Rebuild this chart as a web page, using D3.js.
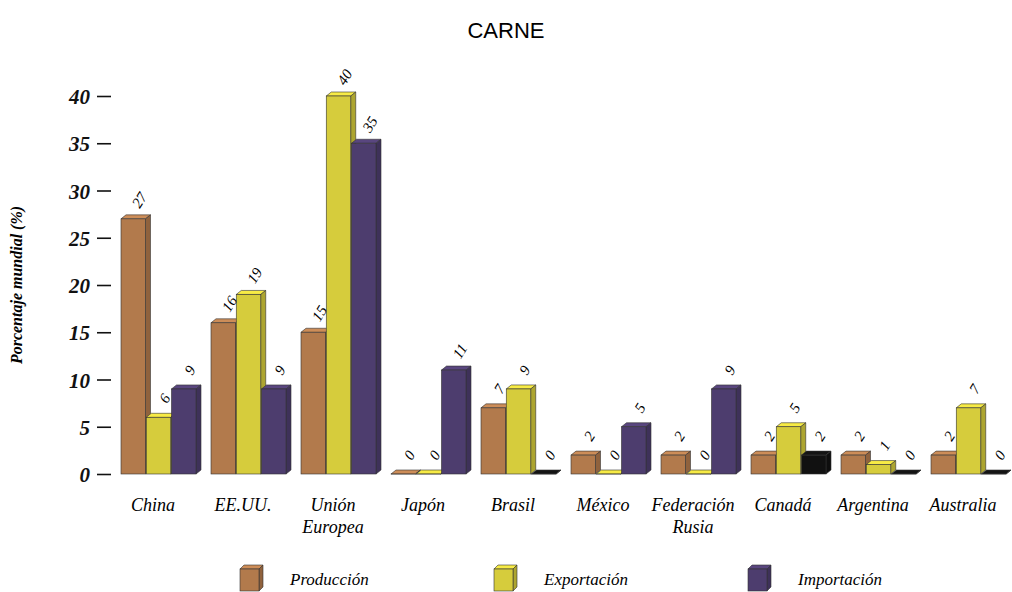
<!DOCTYPE html>
<html>
<head>
<meta charset="utf-8">
<script src="https://cdn.jsdelivr.net/npm/d3@7"></script>
<style>
body{margin:0;background:#fff;}
svg{display:block;}
.tick text{font-family:"Liberation Serif",serif;font-style:italic;font-weight:bold;}
</style>
</head>
<body>
<div id="idChart"></div>
<script>
var aCategories=["China","EE.UU.","Unión Europea","Japón","Brasil","México","Federación Rusia","Canadá","Argentina","Australia"];
var aSeries=["Producción","Exportación","Importación"];
var aProduccion=[27,16,15,0,7,2,2,2,2,2];
var aExportacion=[6,19,40,0,9,0,0,5,1,7];
var aImportacion=[9,9,35,11,0,5,9,2,0,0];
var aTicks=[0,5,10,15,20,25,30,35,40];

var iWidth=1012;
var iHeight=592;
var iDX=5, iDY=-4;

var mapColor=d3.scaleOrdinal().domain(aSeries).range(["#b27a4c","#d6cc3c","#4d3d6e"]);

var mySvg=d3.select("#idChart").append("svg")
	.attr("width",iWidth)
	.attr("height",iHeight);

var x0=d3.scaleBand().domain(aCategories).range([113,1013]);
var x1=d3.scaleBand().domain(aSeries).range([0,75]).paddingInner(0.03);
var y=d3.scaleLinear().domain([0,40]).range([474,96]);

// title
mySvg.append("text")
	.attr("x",506).attr("y",38)
	.attr("text-anchor","middle")
	.style("font-family","'Liberation Sans',Arial,sans-serif")
	.style("font-size","22px")
	.text("CARNE");

// y axis
var myAxis=mySvg.append("g")
	.attr("transform","translate(111,0)")
	.call(d3.axisLeft(y).tickValues(aTicks).tickSize(14).tickPadding(7));
myAxis.select(".domain").remove();
myAxis.selectAll(".tick line").attr("stroke","#111").attr("stroke-width",1.6);
myAxis.selectAll(".tick text").style("font-size","21px").attr("fill","#111").attr("dy","0.36em");

mySvg.append("text")
	.attr("transform","translate(22,285) rotate(-90)")
	.attr("text-anchor","middle")
	.style("font-family","'Liberation Serif',serif")
	.style("font-style","italic")
	.style("font-weight","bold")
	.style("font-size","16px")
	.text("Porcentaje mundial (%)");

// bars
var aRows=[];
aCategories.forEach(function(sCat,i){
	aRows.push({sCat:sCat,sSeries:aSeries[0],iValue:aProduccion[i]});
	aRows.push({sCat:sCat,sSeries:aSeries[1],iValue:aExportacion[i]});
	aRows.push({sCat:sCat,sSeries:aSeries[2],iValue:aImportacion[i]});
});

function fGroupX(sCat){ return x0(sCat)+x0.bandwidth()/2-37; }

function fDrawBox(g,fX,fY,fW,fH,sFill,iDx,iDy)
{
	var cBase=d3.color(sFill);
	g.append("path")
		.attr("d","M"+fX+","+fY+"l"+iDx+","+iDy+"h"+fW+"l"+(-iDx)+","+(-iDy)+"z")
		.attr("fill",cBase.brighter(0.4)).attr("stroke","#333").attr("stroke-width",0.6);
	g.append("path")
		.attr("d","M"+(fX+fW)+","+fY+"l"+iDx+","+iDy+"v"+fH+"l"+(-iDx)+","+(-iDy)+"z")
		.attr("fill",cBase.darker(0.6)).attr("stroke","#333").attr("stroke-width",0.6);
	g.append("rect")
		.attr("x",fX).attr("y",fY).attr("width",fW).attr("height",Math.max(fH,0.01))
		.attr("fill",sFill).attr("stroke","#333").attr("stroke-width",0.6);
}

var myBars=mySvg.append("g");
aRows.forEach(function(d){
	var fX=fGroupX(d.sCat)+x1(d.sSeries);
	var fTop=y(d.iValue);
	var fH=y(0)-fTop;
	var sFill=mapColor(d.sSeries);
	if(d.iValue==0 && d.sSeries=="Importación") sFill="#111";
	if(d.sCat=="Canadá" && d.sSeries=="Importación") sFill="#111";
	var g=myBars.append("g");
	fDrawBox(g,fX,fTop,x1.bandwidth(),fH,sFill,iDX,iDY);
	mySvg.append("text")
		.attr("transform","translate("+(fX+x1.bandwidth()/2+6)+","+(fTop-19)+") rotate(-58)")
		.attr("text-anchor","middle")
		.attr("dy","0.35em")
		.style("font-family","'Liberation Serif',serif")
		.style("font-style","italic")
		.style("font-size","15px")
		.text(d.iValue);
});

// category labels
var myCats=mySvg.append("g");
aCategories.forEach(function(sCat){
	var aWords=sCat.split(" ");
	var t=myCats.append("text")
		.attr("text-anchor","middle")
		.style("font-family","'Liberation Serif',serif")
		.style("font-style","italic")
		.style("font-size","18px");
	aWords.forEach(function(sWord,i){
		t.append("tspan")
			.attr("x",x0(sCat)+x0.bandwidth()/2-5)
			.attr("y",511+i*22)
			.text(sWord);
	});
});

// legend
var aLegendX=[240,494,748];
aSeries.forEach(function(s,i){
	var g=mySvg.append("g");
	fDrawBox(g,aLegendX[i],569,19,22,mapColor(s),4,-4);
	mySvg.append("text")
		.attr("x",aLegendX[i]+50).attr("y",585)
		.style("font-family","'Liberation Serif',serif")
		.style("font-style","italic")
		.style("font-size","17px")
		.text(s);
});
</script>
</body>
</html>
